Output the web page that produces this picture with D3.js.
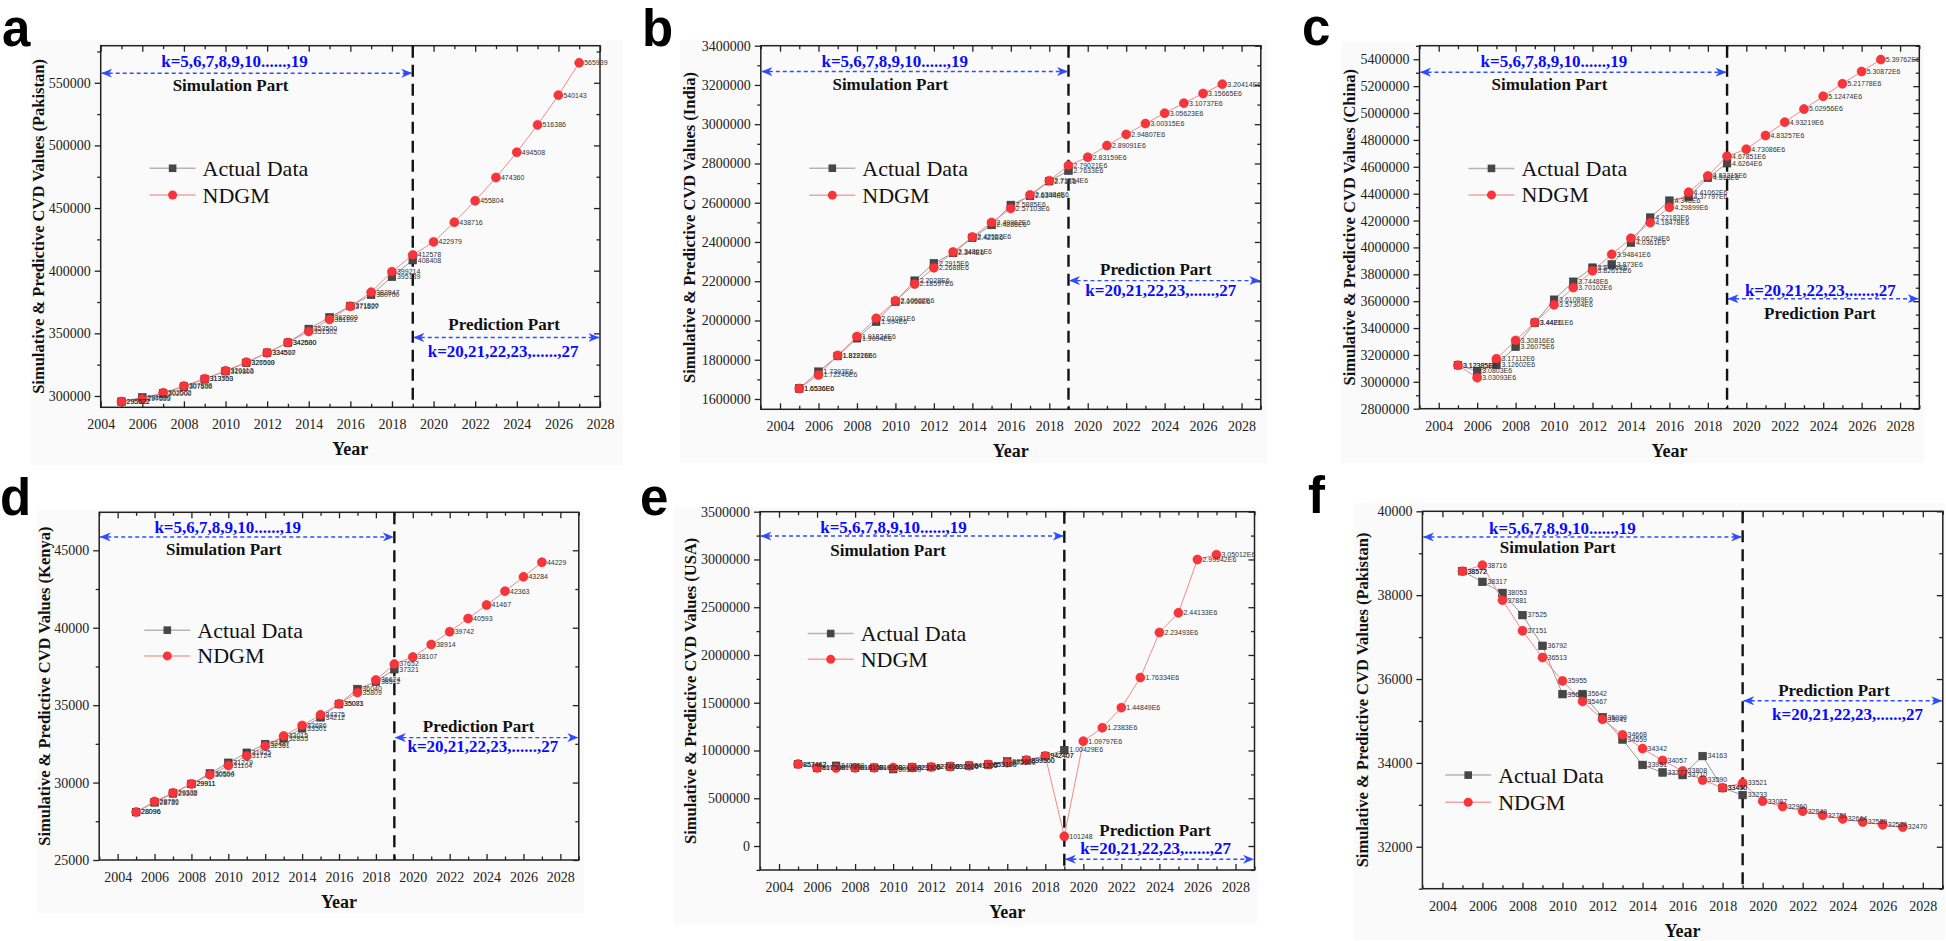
<!DOCTYPE html>
<html><head><meta charset="utf-8">
<script src="https://cdn.jsdelivr.net/npm/d3@7"></script>
<style>body{margin:0;background:#fff;} svg{display:block;}</style>
</head><body><svg id="chart" width="1946" height="941"></svg>
<script>
// ---------------- DATA ----------------
const simYears = [2005,2006,2007,2008,2009,2010,2011,2012,2013,2014,2015,2016,2017,2018,2019];
const allYears = [2005,2006,2007,2008,2009,2010,2011,2012,2013,2014,2015,2016,2017,2018,2019,2020,2021,2022,2023,2024,2025,2026,2027];
const xTickYears = [2004,2006,2008,2010,2012,2014,2016,2018,2020,2022,2024,2026,2028];

const pakistanActual = [295522,298800,302000,307500,313500,319800,326500,334500,342500,353500,362800,371800,380700,395139,408408];
const pakistanNDGM = [295522,297535,302502,307898,313753,320113,327019,334517,342680,351502,361102,371527,382847,399214,412578,422979,438716,455804,474360,494508,516386,540143,565939];

const indiaActual = [1653600,1739300,1819200,1909400,1994000,2095800,2202800,2291500,2344000,2421000,2486600,2588500,2634400,2710000,2763300];
const indiaNDGM = [1653600,1722460,1822160,1918240,2010810,2100020,2185970,2268800,2348610,2425520,2499620,2571030,2639840,2712540,2790210,2831590,2890910,2948070,3003150,3056230,3107370,3156650,3204140];

const chinaActual = [3123850,3080300,3126020,3260750,3440000,3610890,3744800,3849500,3873000,4036100,4221830,4348000,4377970,4518000,4626400];
const chinaNDGM = [3123850,3030930,3171120,3308160,3442110,3573040,3701020,3826120,3948410,4067940,4184780,4298990,4410620,4532150,4678510,4730860,4832570,4932190,5029560,5124740,5217780,5308720,5397620];

const kenyaActual = [28096,28721,29302,29911,30594,31279,31925,32487,32855,33501,34212,35071,36040,36512,37321];
const kenyaNDGM = [28096,28780,29338,29911,30500,31104,31724,32361,33015,33686,34375,35083,35809,36624,37652,38107,38914,39742,40593,41467,42363,43284,44229];

const usaActual = [857462,817500,840000,818100,819300,805000,823300,827400,832600,841200,853100,885000,899500,942407,1004290];
const usaNDGM = [857462,817500,817400,818100,819300,821300,823300,827400,832600,841200,853100,872600,899500,942407,101248,1097970,1238300,1448490,1763340,2234930,2441330,2999420,3050120];

const pakistan2Actual = [38572,38317,38053,37525,36792,35640,35642,35090,34559,33951,33772,33710,34163,33400,33233];
const pakistan2NDGM = [38572,38716,37881,37151,36513,35955,35467,35041,34668,34342,34057,33808,33590,33410,33521,33087,32960,32849,32751,32664,32589,32524,32470];

const yTicksA = [300000,350000,400000,450000,500000,550000];
const yTicksB = [1600000,1800000,2000000,2200000,2400000,2600000,2800000,3000000,3200000,3400000];
const yTicksC = [2800000,3000000,3200000,3400000,3600000,3800000,4000000,4200000,4400000,4600000,4800000,5000000,5200000,5400000];
const yTicksD = [25000,30000,35000,40000,45000];
const yTicksE = [0,500000,1000000,1500000,2000000,2500000,3000000,3500000];
const yTicksF = [32000,34000,36000,38000,40000];

const seriesNames = ["Actual Data","NDGM"];
const simText = "k=5,6,7,8,9,10......,19";
const predText = "k=20,21,22,23,......,27";

// ---------------- LAYOUT ----------------
const panels = [
 {letter:"a", country:"Pakistan", actual:pakistanActual, ndgm:pakistanNDGM, yTicks:yTicksA,
  frame:[100.7,45.7,600,407.3], xDomain:[2004,2028], yDomain:[290960,579600], bg:[31,40,623,465], letterPos:[2,46], yOff:62,
  ksim:[0.268,0.044], simArrow:0.076, simPart:[0.26,0.109], predPart:[0.808,0.772], predArrow:0.807, kpred:[0.806,0.846], leg:[0.144,0.339,0.413]},
 {letter:"b", country:"India", actual:indiaActual, ndgm:indiaNDGM, yTicks:yTicksB,
  frame:[760.8,45.7,1260.8,409.3], xDomain:[2003,2029], yDomain:[1547500,3400000], bg:[680,40,1267,463], letterPos:[642,46], yOff:71,
  ksim:[0.268,0.044], simArrow:0.071, simPart:[0.259,0.108], predPart:[0.79,0.615], predArrow:0.646, kpred:[0.8,0.672], leg:[0.143,0.337,0.411]},
 {letter:"c", country:"China", actual:chinaActual, ndgm:chinaNDGM, yTicks:yTicksC,
  frame:[1419.5,45.7,1919.3,408.7], xDomain:[2003,2029], yDomain:[2800000,5501000], bg:[1341,42,1924,463], letterPos:[1302,45], yOff:70,
  ksim:[0.269,0.044], simArrow:0.073, simPart:[0.26,0.108], predPart:[0.801,0.739], predArrow:0.697, kpred:[0.802,0.675], leg:[0.144,0.338,0.411]},
 {letter:"d", country:"Kenya", actual:kenyaActual, ndgm:kenyaNDGM, yTicks:yTicksD,
  frame:[99.2,512.3,578.8,860], xDomain:[2003,2029], yDomain:[25000,47454], bg:[37,510,584,913], letterPos:[0,515], yOff:55,
  ksim:[0.268,0.044], simArrow:0.071, simPart:[0.26,0.108], predPart:[0.791,0.617], predArrow:0.648, kpred:[0.8,0.674], leg:[0.142,0.339,0.413]},
 {letter:"e", country:"USA", actual:usaActual, ndgm:usaNDGM, yTicks:yTicksE,
  frame:[760,511.7,1254.5,870], xDomain:[2003,2029], yDomain:[-251000,3500000], bg:[674,507,1257,925], letterPos:[640,515], yOff:70,
  ksim:[0.27,0.044], simArrow:0.068, simPart:[0.259,0.107], predPart:[0.799,0.891], predArrow:0.97, kpred:[0.8,0.94], leg:[0.143,0.34,0.412]},
 {letter:"f", country:"Pakistan", actual:pakistan2Actual, ndgm:pakistan2NDGM, yTicks:yTicksF,
  frame:[1422.4,511.3,1942.8,888.7], xDomain:[2003,2029], yDomain:[31000,40000], bg:[1354,503,1945,940], letterPos:[1308,513.3], yOff:60,
  ksim:[0.269,0.045], simArrow:0.068, simPart:[0.26,0.096], predPart:[0.791,0.475], predArrow:0.502, kpred:[0.817,0.538], leg:[0.088,0.699,0.771]}
];

const SERIF = "'Liberation Serif','Times New Roman',Times,serif";
const SANS = "'Liberation Sans',Arial,Helvetica,sans-serif";
const RED = "#f7353a", REDLINE = "#f28a8a", GRAYSQ = "#474747", GRAYLINE = "#9a9a9a", BLUE = "#0a0aff", BLUELINE = "#2f4dff";

const svg = d3.select("#chart");
const defs = svg.append("defs");
defs.append("marker").attr("id","arrowB").attr("viewBox","0 0 11 9")
  .attr("markerWidth",11).attr("markerHeight",9).attr("refX",10.5).attr("refY",4.5)
  .attr("markerUnits","userSpaceOnUse").attr("orient","auto-start-reverse")
  .append("path").attr("d","M0,0 L11,4.5 L0,9 L3.2,4.5 Z").attr("fill",BLUELINE);

function fmt(v){
  if (Math.abs(v) >= 1e6) {
    let s = (v/1e6).toPrecision(6);
    s = s.replace(/0+$/,"").replace(/\.$/,"");
    return s + "E6";
  }
  return d3.format("d")(Math.round(v));
}

function minorTicks(majors, domain){
  const step = majors[1]-majors[0];
  const out = [];
  const lo = Math.min(domain[0],domain[1]), hi = Math.max(domain[0],domain[1]);
  for (let v = majors[0] - step/2; v >= lo; v -= step) out.push(v);
  majors.forEach(m => { const v = m + step/2; if (v <= hi) out.push(v); });
  return out;
}

panels.forEach(p => {
  const [L,T,R,B] = p.frame;
  const W = R-L, H = B-T;
  const g = svg.append("g");
  const x = d3.scaleLinear().domain(p.xDomain).range([L,R]);
  const y = d3.scaleLinear().domain(p.yDomain).range([B,T]);
  const fx = f => L + f*W, fy = f => T + f*H;

  g.append("rect").attr("x",p.bg[0]).attr("y",p.bg[1]).attr("width",p.bg[2]-p.bg[0]).attr("height",p.bg[3]-p.bg[1]).attr("fill","#fafafa");

  g.append("text").attr("x",p.letterPos[0]).attr("y",p.letterPos[1]).text(p.letter)
    .attr("font-family",SANS).attr("font-weight","bold").attr("font-size",51).attr("fill","#000");

  const xMinor = d3.range(Math.ceil(p.xDomain[0]), p.xDomain[1]+0.001, 1).filter(v => v%2 !== 0);
  const yMinor = minorTicks(p.yTicks, p.yDomain);

  const styleAxis = sel => {
    sel.select(".domain").remove();
    sel.selectAll("line").attr("stroke","#222").attr("stroke-width",1.3);
    sel.selectAll("text").attr("font-family",SERIF).attr("font-size",14).attr("fill","#222");
  };
  g.append("g").attr("transform",`translate(0,${B})`)
    .call(d3.axisBottom(x).tickValues(xTickYears).tickSize(-6).tickPadding(12).tickFormat(d3.format("d"))).call(styleAxis);
  g.append("g").attr("transform",`translate(0,${B})`)
    .call(d3.axisBottom(x).tickValues(xMinor).tickSize(-3.5).tickFormat("")).call(styleAxis);
  g.append("g").attr("transform",`translate(0,${T})`)
    .call(d3.axisTop(x).tickValues(xTickYears).tickSize(-6).tickFormat("")).call(styleAxis);
  g.append("g").attr("transform",`translate(0,${T})`)
    .call(d3.axisTop(x).tickValues(xMinor).tickSize(-3.5).tickFormat("")).call(styleAxis);
  g.append("g").attr("transform",`translate(${L},0)`)
    .call(d3.axisLeft(y).tickValues(p.yTicks).tickSize(6).tickPadding(4).tickFormat(d3.format("d"))).call(styleAxis);
  g.append("g").attr("transform",`translate(${L},0)`)
    .call(d3.axisLeft(y).tickValues(yMinor).tickSize(3.5).tickFormat("")).call(styleAxis);
  g.append("g").attr("transform",`translate(${R},0)`)
    .call(d3.axisRight(y).tickValues(p.yTicks).tickSize(-6).tickFormat("")).call(styleAxis);
  g.append("g").attr("transform",`translate(${R},0)`)
    .call(d3.axisRight(y).tickValues(yMinor).tickSize(-3.5).tickFormat("")).call(styleAxis);

  g.append("rect").attr("x",L).attr("y",T).attr("width",W).attr("height",H)
    .attr("fill","none").attr("stroke","#222").attr("stroke-width",1.5);

  g.append("text").attr("x",(L+R)/2).attr("y",B+48).attr("text-anchor","middle").text("Year")
    .attr("font-family",SERIF).attr("font-weight","bold").attr("font-size",18).attr("fill","#111");
  g.append("text").attr("transform",`translate(${L-p.yOff},${(T+B)/2}) rotate(-90)`)
    .attr("text-anchor","middle").attr("dominant-baseline","central")
    .text(`Simulative & Predictive CVD Values (${p.country})`)
    .attr("font-family",SERIF).attr("font-weight","bold").attr("font-size",16.5).attr("fill","#111");

  const xd = x(2019);
  g.append("line").attr("x1",xd).attr("x2",xd).attr("y1",T).attr("y2",B)
    .attr("stroke","#111").attr("stroke-width",2.4).attr("stroke-dasharray","12,7");

  const arrow = (x1,x2,yy) => g.append("line").attr("x1",x1).attr("x2",x2).attr("y1",yy).attr("y2",yy)
    .attr("stroke",BLUELINE).attr("stroke-width",1.4).attr("stroke-dasharray","4,3")
    .attr("marker-start","url(#arrowB)").attr("marker-end","url(#arrowB)");
  arrow(L+1, xd-1, fy(p.simArrow));
  arrow(xd+1, R-1, fy(p.predArrow));

  const label = (pos, txt, color) => g.append("text").attr("x",fx(pos[0])).attr("y",fy(pos[1]))
    .attr("text-anchor","middle").attr("dominant-baseline","central").text(txt)
    .attr("font-family",SERIF).attr("font-weight","bold").attr("font-size",17).attr("fill",color);
  label(p.ksim, simText, BLUE);
  label(p.simPart, "Simulation Part", "#111");
  label(p.predPart, "Prediction Part", "#111");
  label(p.kpred, predText, BLUE);

  const actualPts = simYears.map((yr,i)=>({yr, v:p.actual[i]}));
  const ndgmPts = allYears.map((yr,i)=>({yr, v:p.ndgm[i]}));
  const line = d3.line().x(d=>x(d.yr)).y(d=>y(d.v));
  g.append("path").datum(actualPts).attr("d",line).attr("fill","none").attr("stroke",GRAYLINE).attr("stroke-width",1);
  g.selectAll(null).data(actualPts).enter().append("rect")
    .attr("x",d=>x(d.yr)-3.8).attr("y",d=>y(d.v)-3.8).attr("width",7.6).attr("height",7.6)
    .attr("fill",GRAYSQ).attr("stroke","#333").attr("stroke-width",0.6);
  g.append("path").datum(ndgmPts).attr("d",line).attr("fill","none").attr("stroke",REDLINE).attr("stroke-width",1);
  g.selectAll(null).data(ndgmPts).enter().append("circle")
    .attr("cx",d=>x(d.yr)).attr("cy",d=>y(d.v)).attr("r",4.5)
    .attr("fill",RED).attr("stroke","#e5252a").attr("stroke-width",0.6);

  const dlab = pts => g.selectAll(null).data(pts).enter().append("text")
    .attr("x",d=>x(d.yr)+5).attr("y",d=>y(d.v)+2.4).text(d=>fmt(d.v))
    .attr("font-family",SANS).attr("font-size",7).attr("fill","#333");
  dlab(actualPts);
  dlab(ndgmPts);

  const lx = fx(p.leg[0]), ly1 = fy(p.leg[1]), ly2 = fy(p.leg[2]);
  g.append("line").attr("x1",lx-23).attr("x2",lx+23).attr("y1",ly1).attr("y2",ly1).attr("stroke","#b5b5b5").attr("stroke-width",1.5);
  g.append("rect").attr("x",lx-3.8).attr("y",ly1-3.8).attr("width",7.6).attr("height",7.6).attr("fill",GRAYSQ);
  g.append("line").attr("x1",lx-23).attr("x2",lx+23).attr("y1",ly2).attr("y2",ly2).attr("stroke","#f4a3a3").attr("stroke-width",1.5);
  g.append("circle").attr("cx",lx).attr("cy",ly2).attr("r",4.5).attr("fill",RED);
  [ly1,ly2].forEach((ly,i)=> g.append("text").attr("x",lx+30).attr("y",ly).attr("dominant-baseline","central")
    .text(seriesNames[i]).attr("font-family",SERIF).attr("font-size",22).attr("fill","#111"));
});
</script>
</body></html>
